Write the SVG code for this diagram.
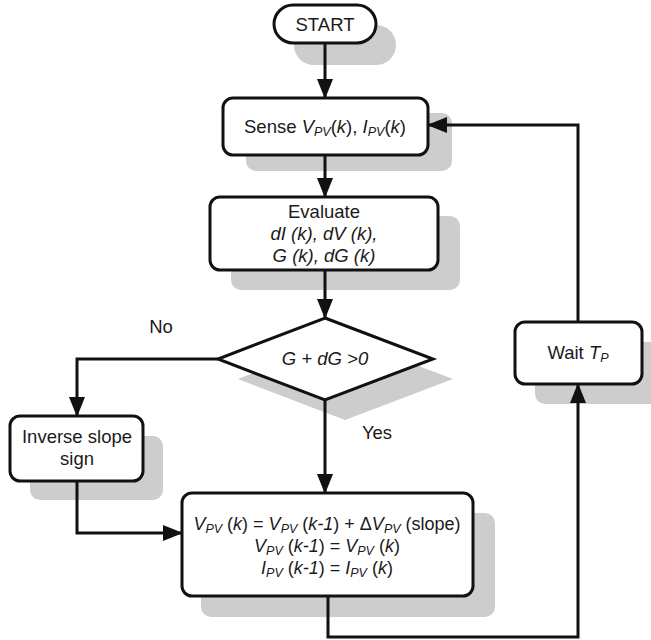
<svg xmlns="http://www.w3.org/2000/svg" width="651" height="640" viewBox="0 0 651 640">
<style>
.sh{fill:#cdcdcd;stroke:none}
.nd{fill:#fff;stroke:#111;stroke-width:3}
.t{font-family:"Liberation Sans",Arial,sans-serif;font-size:18.5px;fill:#1a1a1a;text-anchor:middle}
.u{font-size:18px}
.i{font-style:italic}
.s{font-style:italic;font-size:12.5px}
.c{fill:none;stroke:#111;stroke-width:3}
</style>
<defs>
<marker id="ah" markerUnits="userSpaceOnUse" markerWidth="20" markerHeight="16" refX="19" refY="8" orient="auto">
<path d="M0,0 L20,8 L0,16 Z" fill="#111"/>
</marker>
</defs>
<rect width="651" height="640" fill="#fff"/>
<g id="start">
<rect class="sh" x="294" y="25" width="102" height="40" rx="20"/>
<rect class="nd" x="274" y="5" width="102" height="38" rx="19"/>
<text class="t" x="325" y="31">START</text>
</g>
<g id="sense">
<rect class="sh" x="246" y="113" width="206" height="58" rx="10"/>
<rect class="nd" x="223" y="98" width="205" height="57" rx="10"/>
<text class="t" x="325" y="133">Sense <tspan class="i">V</tspan><tspan class="s" dy="3">PV</tspan><tspan dy="-3">(</tspan><tspan class="i">k</tspan>), <tspan class="i">I</tspan><tspan class="s" dy="3">PV</tspan><tspan dy="-3">(</tspan><tspan class="i">k</tspan>)</text>
</g>
<g id="evaluate">
<rect class="sh" x="231" y="216" width="229" height="74" rx="10"/>
<rect class="nd" x="210" y="197" width="228" height="73" rx="10"/>
<text class="t" x="324" y="218">Evaluate</text>
<text class="t i" x="324" y="240">dI (k), dV (k),</text>
<text class="t i" x="324" y="262">G (k), dG (k)</text>
</g>
<g id="decision">
<polygon class="sh" points="345,338 453,379 345,420 238,379"/>
<polygon class="nd" points="325,318 433,359 325,400 218,359"/>
<text class="t i" x="325" y="365">G + dG &gt;0</text>
</g>
<g id="inverse">
<rect class="sh" x="30" y="436" width="133" height="64" rx="10"/>
<rect class="nd" x="10" y="416" width="133" height="65" rx="10"/>
<text class="t" x="77" y="443">Inverse slope</text>
<text class="t" x="77" y="465">sign</text>
</g>
<g id="update">
<rect class="sh" x="201" y="513" width="294" height="104" rx="10"/>
<rect class="nd" x="182" y="493" width="291" height="103" rx="10"/>
<text class="t u" x="327" y="530"><tspan class="i">V</tspan><tspan class="s" dy="3">PV</tspan><tspan dy="-3"> (</tspan><tspan class="i">k</tspan>) = <tspan class="i">V</tspan><tspan class="s" dy="3">PV</tspan><tspan dy="-3"> (</tspan><tspan class="i">k-1</tspan>) + Δ<tspan class="i">V</tspan><tspan class="s" dy="3">PV</tspan><tspan dy="-3"> (slope)</tspan></text>
<text class="t u" x="327" y="552"><tspan class="i">V</tspan><tspan class="s" dy="3">PV</tspan><tspan dy="-3"> (</tspan><tspan class="i">k-1</tspan>) = <tspan class="i">V</tspan><tspan class="s" dy="3">PV</tspan><tspan dy="-3"> (</tspan><tspan class="i">k</tspan>)</text>
<text class="t u" x="327" y="574"><tspan class="i">I</tspan><tspan class="s" dy="3">PV</tspan><tspan dy="-3"> (</tspan><tspan class="i">k-1</tspan>) = <tspan class="i">I</tspan><tspan class="s" dy="3">PV</tspan><tspan dy="-3"> (</tspan><tspan class="i">k</tspan>)</text>
</g>
<g id="wait">
<rect class="sh" x="535" y="342" width="130" height="62" rx="10"/>
<rect class="nd" x="515" y="322" width="127" height="62" rx="10"/>
<text class="t" x="578" y="359">Wait <tspan class="i">T</tspan><tspan class="s" dy="3">P</tspan></text>
</g>
<g id="connectors">
<path class="c" d="M325,43 V98" marker-end="url(#ah)"/>
<path class="c" d="M325,155 V197" marker-end="url(#ah)"/>
<path class="c" d="M325,270 V318" marker-end="url(#ah)"/>
<path class="c" d="M218,359 H77 V416" marker-end="url(#ah)"/>
<path class="c" d="M325,400 V493" marker-end="url(#ah)"/>
<path class="c" d="M77,481 V533 H182" marker-end="url(#ah)"/>
<path class="c" d="M328,596 V637 H578 V384" marker-end="url(#ah)"/>
<path class="c" d="M578,322 V125 H428" marker-end="url(#ah)"/>
</g>
<text class="t" x="161" y="333">No</text>
<text class="t" x="377" y="439">Yes</text>
</svg>
